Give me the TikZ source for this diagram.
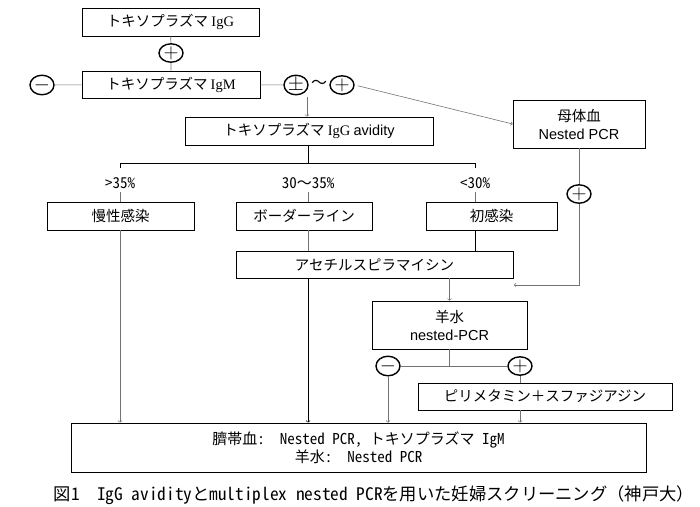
\documentclass[tikz,border=0pt]{standalone}
\usepackage{fontspec}
\setmainfont{Noto Sans CJK JP}
\newfontfamily\fw{Noto Sans CJK JP}
\newfontfamily\ar{Liberation Sans}
\newfontfamily\tm{Liberation Serif}
\newfontfamily\hw[RawFeature=+hwid]{Noto Sans CJK JP}
\usetikzlibrary{shapes.geometric,calc}
\begin{document}
\begin{tikzpicture}[x=1pt,y=-1pt,
    box/.style={draw, line width=0.8pt, inner sep=0pt, align=center, font=\fontsize{14.5}{18}\selectfont},
    sign/.style={ellipse, draw, line width=1.4pt, inner sep=0pt, minimum width=24pt, minimum height=18pt, font=\fontsize{21}{21}\selectfont},
    conn/.style={draw=black!55, line width=0.6pt},
    lbl/.style={font=\hw\fontsize{15}{17}\selectfont}]
        \useasboundingbox (0,0) rectangle (700,506);

        % boxes
        \node[box, minimum width=177pt, minimum height=28pt] (igg) at (170.5,22) {トキソプラズマ {\tm IgG}};
        \node[box, minimum width=178pt, minimum height=27pt] (igm) at (171,84.5) {トキソプラズマ {\tm IgM}};
        \node[box, minimum width=248pt, minimum height=28pt] (avid) at (309,131) {トキソプラズマ {\tm IgG} {\ar avidity}};
        \node[box, minimum width=132pt, minimum height=48pt] (boshi) at (579,124) {母体血\\{\ar Nested PCR}};
        \node[box, minimum width=147pt, minimum height=28pt] (mansei) at (120.5,216) {慢性感染};
        \node[box, minimum width=136pt, minimum height=28pt] (border) at (304,216) {ボーダーライン};
        \node[box, minimum width=131pt, minimum height=28pt] (shokan) at (491.5,216) {初感染};
        \node[box, minimum width=277pt, minimum height=27pt] (acetyl) at (374.5,264.5) {アセチルスピラマイシン};
        \node[box, minimum width=155pt, minimum height=48pt] (yosui) at (449.5,325) {羊水\\{\ar nested-PCR}};
        \node[box, minimum width=254pt, minimum height=27pt] (pyri) at (545,396.5) {ピリメタミン＋スファジアジン};
        \node[box, minimum width=575pt, minimum height=49pt, font=\hw\fontsize{15}{18}\selectfont] (final) at (358.5,447.5) {臍帯血:\ \ Nested PCR, トキソプラズマ IgM\\羊水:\ \ Nested PCR};

        % signs
        \node[sign] (plusA) at (171,53) {$+$};
        \node[sign] (minusA) at (42,85) {$-$};
        \node[sign] (pm) at (296,85) {$\pm$};
        \node[font=\fontsize{16}{16}\selectfont] (tilde) at (319,84) {～};
        \node[sign] (plusB) at (342,85) {$+$};
        \node[sign] (plusC) at (579,194) {$+$};
        \node[sign] (minusB) at (388,366) {$-$};
        \node[sign] (plusD) at (520,366) {$+$};

        % avidity labels
        \node[lbl] (gt) at (120,183) {>35\%};
        \node[lbl] (mid) at (308,183) {30{\fw ～}35\%};
        \node[lbl] (lt) at (475,183) {<30\%};

        \coordinate (a1) at (307,97);
        \coordinate (c1) at (514,285);
        \coordinate (brL) at (120,163);
        \coordinate (brM) at (308,163);
        \coordinate (brR) at (475,163);

        % connectors
        \draw[conn] (igg) -- (plusA) -- (igm);
        \draw[conn] (minusA) -- (igm);
        \draw[conn] (igm) -- (pm);
        \draw[conn, ->] (a1) -- (a1 |- avid.north);
        \draw[conn, ->, shorten <=3pt] (plusB.east) -- (boshi.west);
        \draw[conn] (boshi) -- (plusC);
        \draw[conn, ->] (plusC) |- (c1);

        \draw[line width=0.6pt] (avid.south -| brM) -- (brM);
        \draw[line width=0.6pt] ($(brL)+(0,5)$) -- (brL) -- (brR) -- ($(brR)+(0,5)$);
        \draw[conn] (gt) -- (gt |- mansei.north);
        \draw[conn] (mid) -- (mid |- border.north);
        \draw[conn] (lt) -- (lt |- shokan.north);

        \draw[conn, ->] (mansei.south -| gt) -- (gt |- final.north);
        \draw[conn] (border.south -| mid) -- (mid |- acetyl.north);
        \draw[line width=0.6pt] (shokan.south -| lt) -- (lt |- acetyl.north);
        \draw[line width=0.6pt, ->] (acetyl.south -| mid) -- (mid |- final.north);
        \draw[conn, ->] (acetyl.south -| yosui) -- (yosui.north);

        \draw[conn] (yosui.south) -- (yosui.south |- minusB);
        \draw[conn] (minusB) -- (plusD);
        \draw[conn, ->] (minusB) -- (minusB |- final.north);
        \draw[conn] (plusD) -- (plusD |- pyri.north);
        \draw[conn, ->] (pyri.south -| plusD) -- (plusD |- final.north);

        % caption
        \node[font=\hw\fontsize{17.3}{19}\selectfont] (cap) at (374,495) {図1{\fw 　}IgG avidityとmultiplex nested PCRを用いた妊婦スクリーニング{\fw （神戸大）}};
\end{tikzpicture}
\end{document}
